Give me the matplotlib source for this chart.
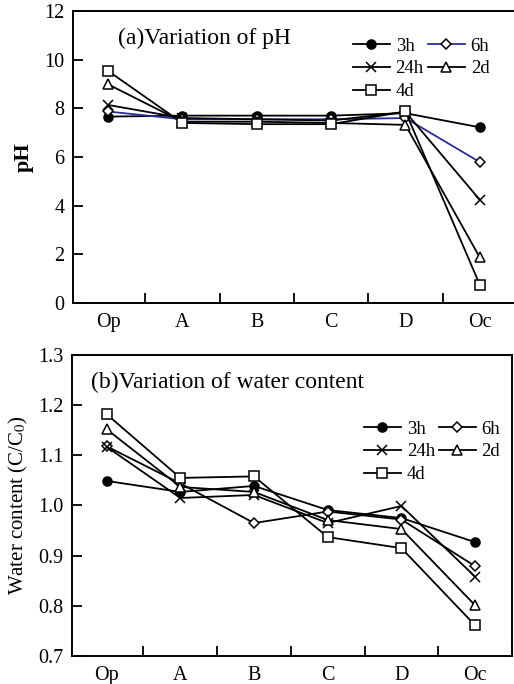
import matplotlib
matplotlib.use("Agg")
import matplotlib.pyplot as plt
from matplotlib.ticker import FixedLocator, NullFormatter

plt.rcParams['font.family'] = ['Liberation Serif', 'DejaVu Serif']
plt.rcParams['mathtext.fontset'] = 'stix'

categories = ["Op", "A", "B", "C", "D", "Oc"]
series = ["3h", "6h", "24h", "2d", "4d"]

ph_3h = [7.66, 7.70, 7.70, 7.70, 7.80, 7.22]
ph_6h = [7.87, 7.55, 7.55, 7.55, 7.60, 5.79]
ph_24h = [8.14, 7.60, 7.55, 7.50, 7.85, 4.24]
ph_2d = [8.99, 7.45, 7.45, 7.40, 7.32, 1.87]
ph_4d = [9.54, 7.40, 7.35, 7.35, 7.87, 0.75]

wc_3h = [1.049, 1.027, 1.039, 0.991, 0.975, 0.927]
wc_6h = [1.118, 1.044, 0.965, 0.988, 0.972, 0.879]
wc_24h = [1.117, 1.015, 1.021, 0.965, 0.999, 0.858]
wc_2d = [1.152, 1.037, 1.027, 0.971, 0.953, 0.801]
wc_4d = [1.182, 1.055, 1.058, 0.937, 0.915, 0.761]

ph_data = [ph_3h, ph_6h, ph_24h, ph_2d, ph_4d]
wc_data = [wc_3h, wc_6h, wc_24h, wc_2d, wc_4d]

markers = ['o', 'D', 'x', '^', 's']
msizes = [6.5, 5, 7.5, 6.5, 6.5]
filled = [True, False, False, False, False]

fig = plt.figure(figsize=(5.14, 6.84), dpi=100)
W, H = 514, 684
ax1 = fig.add_axes([73 / W, 1 - 303 / H, (517 - 73) / W, (303 - 11) / H])
ax2 = fig.add_axes([72 / W, 1 - 656 / H, (512 - 72) / W, (656 - 355) / H])

x = list(range(len(categories)))


def draw(ax, data, colors, ylim, yticks, yfmt, title, title_xy, ylabel, ylabel_kw, legend_anchor):
    handles = {}
    for i, (name, vals) in enumerate(zip(series, data)):
        c = colors[i]
        ln, = ax.plot(x, vals, color=c, lw=1.3, marker=markers[i], ms=msizes[i],
                      mfc=(c if filled[i] else 'white'), mec='black', mew=1.1,
                      label=name, zorder=3 + i * 0.1)
        handles[name] = ln
    ax.set_xlim(-0.47, 5.5)
    ax.set_ylim(*ylim)
    ax.xaxis.set_major_locator(FixedLocator([0.5, 1.5, 2.5, 3.5, 4.5, 5.5]))
    ax.xaxis.set_major_formatter(NullFormatter())
    ax.set_xticks(x, minor=True)
    ax.set_xticklabels(categories, minor=True)
    ax.tick_params(axis='x', which='minor', length=0, labelsize=14.5, pad=7)
    ax.tick_params(axis='x', which='major', direction='in', length=7, width=1.3)
    ax.set_yticks(yticks)
    ax.set_yticklabels([yfmt.format(v) for v in yticks])
    ax.tick_params(axis='y', direction='in', length=7, width=1.3, labelsize=14.5, pad=6)
    ax.tick_params(top=False, right=False)
    for s in ax.spines.values():
        s.set_linewidth(1.4)
    ax.text(title_xy[0], title_xy[1], title, transform=fig.transFigure,
            fontsize=17, ha='left', va='center')
    ax.set_ylabel(ylabel, **ylabel_kw)
    order = ["3h", "24h", "4d", "6h", "2d"]
    leg = ax.legend([handles[k] for k in order], order, ncol=2, loc='upper left',
                    bbox_to_anchor=legend_anchor, frameon=False, fontsize=13.5,
                    handlelength=2.0, handletextpad=0.3, columnspacing=0.2,
                    labelspacing=0.3, borderaxespad=0)
    return leg


draw(ax1, ph_data, ['black', '#2b2b9c', 'black', 'black', 'black'], (0, 12),
     [0, 2, 4, 6, 8, 10, 12], "{:.0f}", "(a)Variation of pH", (118 / W, 1 - 38 / H), "pH",
     dict(fontsize=16, fontweight='bold', labelpad=8), ((345 - 73) / 444, 1 - (30 - 11) / 292))
draw(ax2, wc_data, ['black'] * 5, (0.7, 1.3),
     [0.7, 0.8, 0.9, 1.0, 1.1, 1.2, 1.3], "{:.1f}", "(b)Variation of water content",
     (91 / W, 1 - 382 / H),
     "Water content (C/C$_0$)", dict(fontsize=15, labelpad=6), ((356 - 72) / 440, 1 - (413 - 355) / 301))

fig.savefig("out.png", dpi=100)
